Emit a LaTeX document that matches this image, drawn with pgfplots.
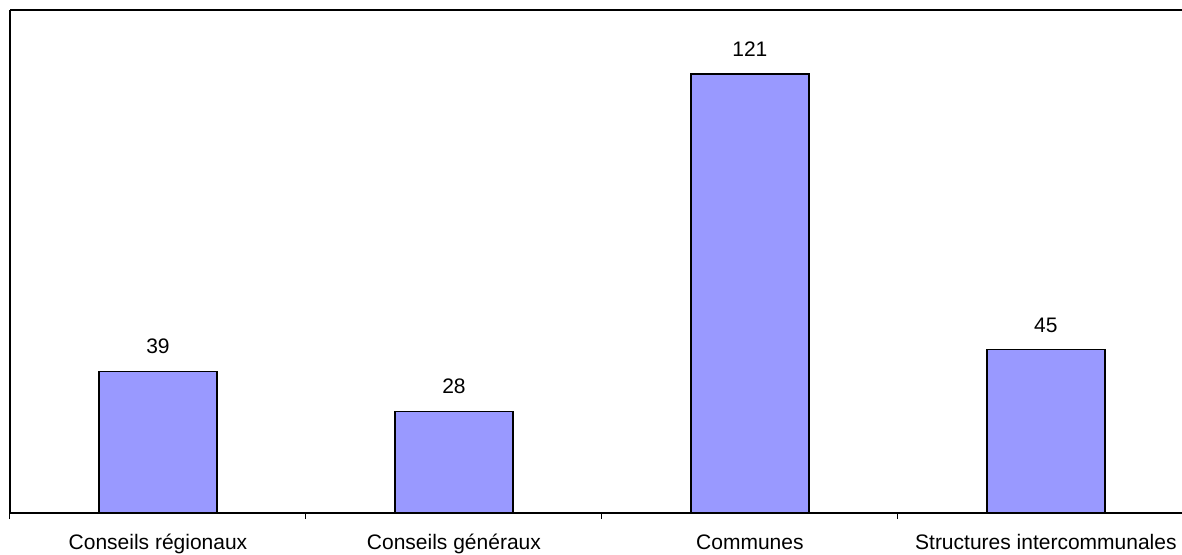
\documentclass[border=0pt]{standalone}
\usepackage{pgfplots}
\pgfplotsset{compat=1.18}
\usepackage{fontspec}
\setmainfont{Liberation Sans}
\definecolor{barblue}{HTML}{9999FF}
\begin{document}
\begin{tikzpicture}
\begin{axis}[
  name=ax,
  width=586pt, height=251.5pt,
  scale only axis,
  xmin=-0.5, xmax=3.46,
  ymin=0, ymax=138.6,
  axis x line*=bottom,
  axis y line*=left,
  axis line style={line width=0.7pt, -},
  xtick={0,1,2,3},
  xticklabels={Conseils régionaux, Conseils généraux, Communes, Structures intercommunales},
  minor xtick={-0.5,0.5,1.5,2.5},
  major tick length=0pt,
  minor tick length=3pt,
  tick align=outside,
  tick style={black, line width=0.5pt},
  ytick=\empty,
  /pgf/number format/assume math mode=true,
  xticklabel style={font=\fontsize{10.5}{12}\selectfont, anchor=base, yshift=-18pt},
  ybar,
  bar width=59pt,
  nodes near coords,
  every node near coord/.append style={font=\fontsize{10.5}{12}\selectfont, yshift=5pt},
  clip=false,
]
\addplot[fill=barblue, draw=black, line width=0.8pt] coordinates {(0,39) (1,28) (2,121) (3,45)};
\draw[line width=0.7pt] (rel axis cs:0,1) -- (rel axis cs:1,1);
\end{axis}
\pgfresetboundingbox
\path[use as bounding box] ([xshift=-5pt,yshift=-20.5pt]ax.south west) rectangle ([yshift=5pt]ax.north east);
\end{tikzpicture}
\end{document}
